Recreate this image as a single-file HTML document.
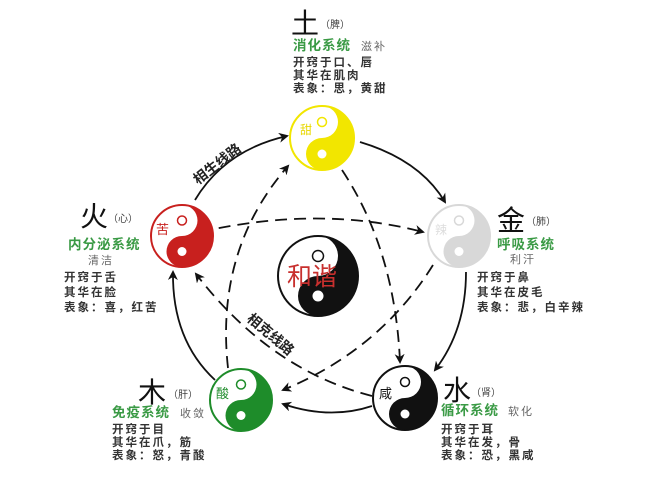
<!DOCTYPE html>
<html><head><meta charset="utf-8"><style>
html,body{margin:0;padding:0;background:#fff;width:658px;height:482px;overflow:hidden}
svg{display:block}
text{font-family:"Liberation Sans","Noto Sans CJK SC",sans-serif}
.s{font-size:11.5px;fill:#333;font-weight:bold;letter-spacing:2px}
.g{font-size:13.5px;fill:#3a9a45;font-weight:bold;letter-spacing:1px}
.gr{font-size:11px;fill:#666;letter-spacing:2px}
.b{font-size:28px;fill:#111}
.p{font-size:10px;fill:#444}
</style></head><body>
<svg width="658" height="482" viewBox="0 0 658 482" xmlns="http://www.w3.org/2000/svg">
<defs>
<marker id="a" markerWidth="10" markerHeight="10" refX="8" refY="5" orient="auto" markerUnits="userSpaceOnUse">
<path d="M0,0 L10,5 L0,10 L3,5 Z" fill="#111"/></marker>
</defs>
<g fill="none" stroke="#111" stroke-width="1.8" marker-end="url(#a)">
<path d="M195,200 Q225,150 287,136"/>
<path d="M360,142 Q420,160 445,202"/>
<path d="M466,272 Q466,330 435,370"/>
<path d="M372,406 Q330,420 283,404"/>
<path d="M215,380 Q172,340 173,272"/>
</g>
<g fill="none" stroke="#111" stroke-width="1.8" stroke-dasharray="12,7" marker-end="url(#a)">
<path d="M200,232 Q320,205 423,232"/>
<path d="M342,170 Q395,250 400,362"/>
<path d="M433,265 Q380,350 283,390"/>
<path d="M372,396 Q270,370 196,274"/>
<path d="M228,368 Q215,250 288,166"/>
</g>
<g transform="translate(322,138)">
<circle r="32" fill="#fff" stroke="#f2e600" stroke-width="2"/>
<path d="M0,-32 A32,32 0 0 1 0,32 A16,16 0 0 1 0,0 A16,16 0 0 0 0,-32Z" fill="#f2e600"/>
<circle cy="-16" r="4.5" fill="none" stroke="#f2e600" stroke-width="1.5"/><circle cy="16" r="4.5" fill="#fff"/>
<text x="-22" y="-4" style="font-size:12px;fill:#e8d800">甜</text></g>
<g transform="translate(182,236)">
<circle r="31" fill="#fff" stroke="#c8201e" stroke-width="2"/>
<path d="M0,-31 A31,31 0 0 1 0,31 A15.5,15.5 0 0 1 0,0 A15.5,15.5 0 0 0 0,-31Z" fill="#c8201e"/>
<circle cy="-15.5" r="4.5" fill="none" stroke="#c8201e" stroke-width="1.5"/><circle cy="15.5" r="4.5" fill="#fff"/>
<text x="-26" y="-2" style="font-size:13px;fill:#c8201e">苦</text></g>
<g transform="translate(459,236)">
<circle r="31" fill="#fff" stroke="#d8d8d8" stroke-width="2"/>
<path d="M0,-31 A31,31 0 0 1 0,31 A15.5,15.5 0 0 1 0,0 A15.5,15.5 0 0 0 0,-31Z" fill="#d8d8d8"/>
<circle cy="-15.5" r="4.5" fill="none" stroke="#d8d8d8" stroke-width="1.5"/><circle cy="15.5" r="4.5" fill="#fff"/>
<text x="-24" y="-2" style="font-size:12px;fill:#ddd">辣</text></g>
<g transform="translate(241,400)">
<circle r="31" fill="#fff" stroke="#1e8c2a" stroke-width="2"/>
<path d="M0,-31 A31,31 0 0 1 0,31 A15.5,15.5 0 0 1 0,0 A15.5,15.5 0 0 0 0,-31Z" fill="#1e8c2a"/>
<circle cy="-15.5" r="4.5" fill="none" stroke="#1e8c2a" stroke-width="1.5"/><circle cy="15.5" r="4.5" fill="#fff"/>
<text x="-25" y="-2" style="font-size:13px;fill:#1e8c2a">酸</text></g>
<g transform="translate(405,398)">
<circle r="32" fill="#fff" stroke="#111" stroke-width="2"/>
<path d="M0,-32 A32,32 0 0 1 0,32 A16,16 0 0 1 0,0 A16,16 0 0 0 0,-32Z" fill="#111"/>
<circle cy="-16" r="4.5" fill="none" stroke="#111" stroke-width="1.5"/><circle cy="16" r="4.5" fill="#fff"/>
<text x="-26" y="0" style="font-size:13px;fill:#111">咸</text></g>
<g transform="translate(318,276)">
<circle r="40" fill="#fff" stroke="#111" stroke-width="2"/>
<path d="M0,-40 A40,40 0 0 1 0,40 A20,20 0 0 1 0,0 A20,20 0 0 0 0,-40Z" fill="#111"/>
<circle cy="-20" r="5.5" fill="none" stroke="#111" stroke-width="1.5"/><circle cy="20" r="5.5" fill="#fff"/>
<text x="-31" y="9" style="font-size:25px;fill:#c8302e">和谐</text></g>
<text transform="translate(198,185) rotate(-38)" style="font-size:14px;fill:#222;font-weight:bold">相生线路</text>
<text transform="translate(246,320) rotate(40)" style="font-size:14px;fill:#222;font-weight:bold">相克线路</text>
<!-- 土 -->
<text x="291" y="33" class="b">土</text><text x="320" y="28" class="p">（脾）</text>
<text x="293" y="50" class="g">消化系统</text><text x="361" y="50" class="gr">滋补</text>
<text x="293" y="66" class="s">开窍于口、唇</text><text x="293" y="79" class="s">其华在肌肉</text><text x="293" y="92" class="s">表象：思，黄甜</text>
<!-- 火 -->
<text x="80" y="226" class="b">火</text><text x="108" y="222" class="p">（心）</text>
<text x="68" y="249" class="g">内分泌系统</text><text x="88" y="264" class="gr">清洁</text>
<text x="64" y="281" class="s">开窍于舌</text><text x="64" y="296" class="s">其华在脸</text><text x="64" y="311" class="s">表象：喜，红苦</text>
<!-- 金 -->
<text x="497" y="230" class="b">金</text><text x="526" y="225" class="p">（肺）</text>
<text x="497" y="249" class="g">呼吸系统</text><text x="510" y="263" class="gr">利汗</text>
<text x="477" y="281" class="s">开窍于鼻</text><text x="477" y="296" class="s">其华在皮毛</text><text x="477" y="311" class="s">表象：悲，白辛辣</text>
<!-- 木 -->
<text x="138" y="402" class="b">木</text><text x="168" y="398" class="p">（肝）</text>
<text x="112" y="417" class="g">免疫系统</text><text x="180" y="417" class="gr">收敛</text>
<text x="112" y="433" class="s">开窍于目</text><text x="112" y="446" class="s">其华在爪，筋</text><text x="112" y="459" class="s">表象：怒，青酸</text>
<!-- 水 -->
<text x="443" y="400" class="b">水</text><text x="471" y="396" class="p">（肾）</text>
<text x="441" y="415" class="g">循环系统</text><text x="508" y="415" class="gr">软化</text>
<text x="441" y="433" class="s">开窍于耳</text><text x="441" y="446" class="s">其华在发，骨</text><text x="441" y="459" class="s">表象：恐，黑咸</text>
</svg>
</body></html>
